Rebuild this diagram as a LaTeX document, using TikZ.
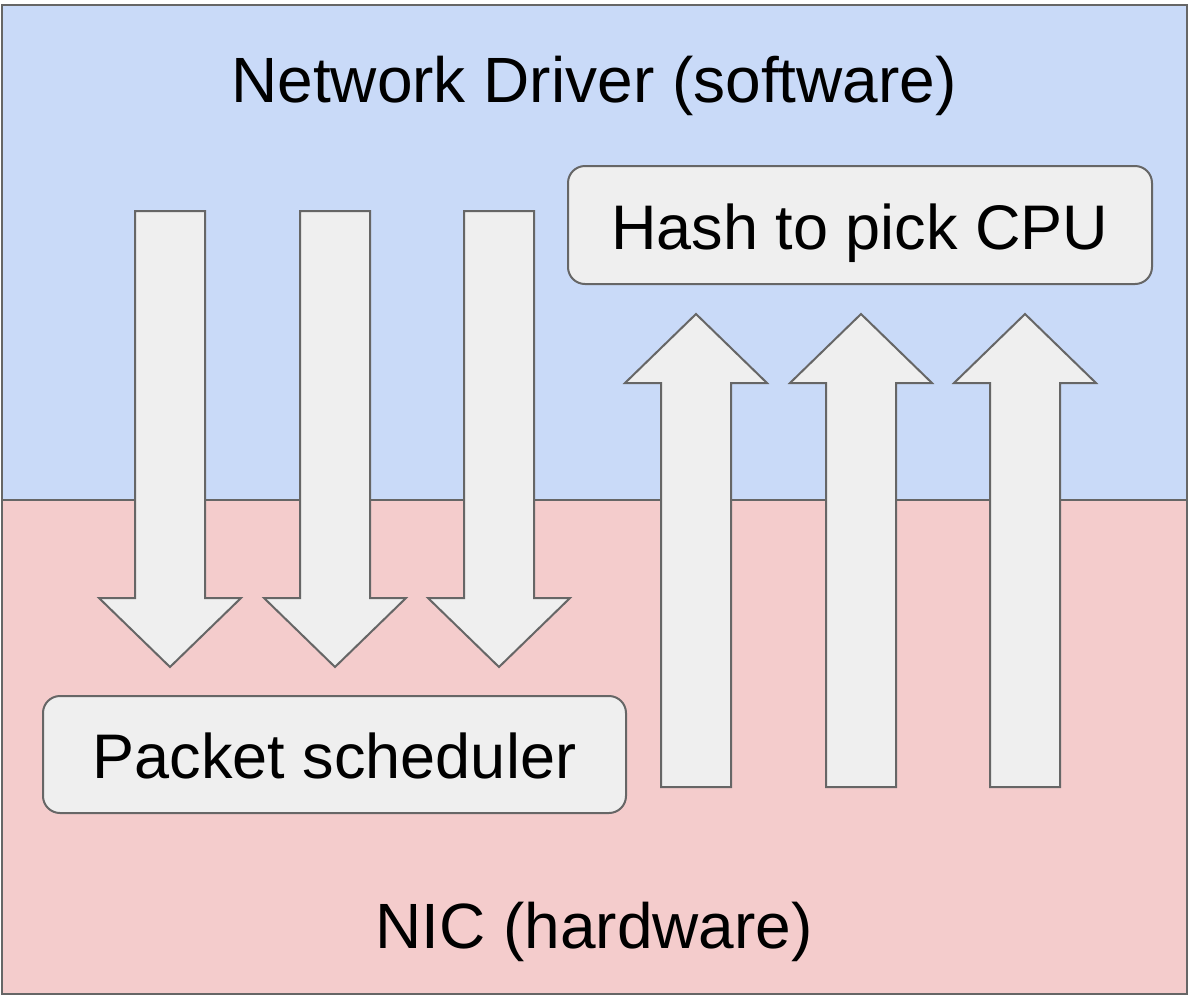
\documentclass[tikz,border=0pt]{standalone}
\usepackage{fontspec}
\setmainfont{Liberation Sans}
\usepackage{tikz}

\begin{document}
\begin{tikzpicture}[x=0.5pt,y=-0.5pt,line join=miter]
  % Key Colors
  \definecolor{drivercolor}{HTML}{C9DAF8}
  \definecolor{niccolor}   {HTML}{F4CCCC}
  \definecolor{boxcolor}   {HTML}{EFEFEF}
  \definecolor{edgecolor}  {HTML}{666666}

  % Styles
  \tikzstyle{layer line}=[draw=edgecolor,line width=1pt]
  \tikzstyle{block arrow}=[draw=edgecolor,fill=boxcolor,line width=1pt]
  \tikzstyle{stage box}=[draw=edgecolor,fill=boxcolor,line width=1pt,rounded corners=8.5pt,
                         inner sep=0pt,text height=24pt,text depth=0pt,
                         font=\fontsize{31.5}{38}\selectfont]
  \tikzstyle{layer text}=[anchor=base,inner sep=0pt,font=\fontsize{32}{38}\selectfont]

  \useasboundingbox (0,0) rectangle (1191,1003);

  % The two layers
  \fill[drivercolor] (2,5)   rectangle (1187,500);
  \fill[niccolor]    (2,500) rectangle (1187,994);
  \draw[style=layer line] (2,500) -- (1187,500);
  \draw[style=layer line] (2,5)   rectangle (1187,994);

  \node[style=layer text] (driver) at (594,102) {Network Driver (software)};
  \node[style=layer text] (nic)    at (594,948) {NIC (hardware)};

  % Transmit queues
  \foreach \cx in {170,335,499}
    \draw[style=block arrow] ({\cx-35},211) -- ({\cx+35},211) -- ({\cx+35},598)
      -- ({\cx+71},598) -- (\cx,667) -- ({\cx-71},598) -- ({\cx-35},598) -- cycle;

  % Receive queues
  \foreach \cx in {696,861,1025}
    \draw[style=block arrow] ({\cx-35},787) -- ({\cx+35},787) -- ({\cx+35},383)
      -- ({\cx+71},383) -- (\cx,314) -- ({\cx-71},383) -- ({\cx-35},383) -- cycle;

  % Boxes
  \node[style=stage box,minimum width=292pt,minimum height=59pt] (hash)
    at (860,225) {Hash to pick CPU};
  \node[style=stage box,minimum width=291.5pt,minimum height=58.5pt] (sched)
    at (334.5,754.5) {Packet scheduler};

\end{tikzpicture}
\end{document}
